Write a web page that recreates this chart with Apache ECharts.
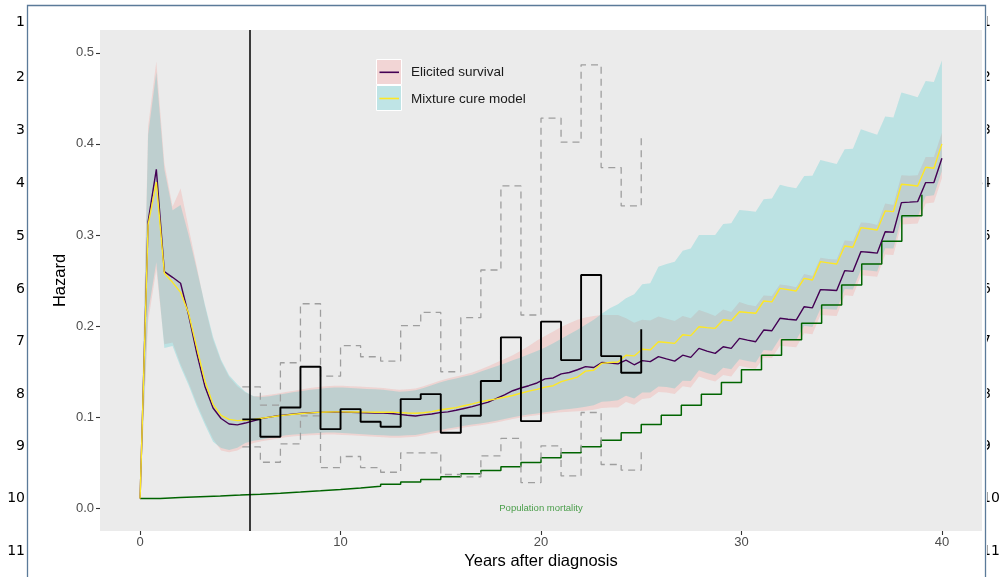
<!DOCTYPE html>
<html><head><meta charset="utf-8">
<script src="https://cdn.jsdelivr.net/npm/echarts@6/dist/echarts.min.js"></script>
<style>html,body{margin:0;padding:0;background:#fff}#c{width:1005px;height:577px}</style>
</head><body><div id="c"></div>
<script>
// evaluation grid (years)
const T = [0.00,0.40,0.81,1.21,1.62,2.02,2.42,2.83,3.23,3.64,
4.04,4.44,4.85,5.25,5.66,6.06,6.46,6.87,7.27,7.68,
8.08,8.48,8.89,9.29,9.70,10.10,10.51,10.91,11.31,11.72,
12.12,12.53,12.93,13.33,13.74,14.14,14.55,14.95,15.35,15.76,
16.16,16.57,16.97,17.37,17.78,18.18,18.59,18.99,19.39,19.80,
20.20,20.61,21.01,21.41,21.82,22.22,22.63,23.03,23.43,23.84,
24.24,24.65,25.05,25.45,25.86,26.26,26.67,27.07,27.47,27.88,
28.28,28.69,29.09,29.49,29.90,30.30,30.71,31.11,31.52,31.92,
32.32,32.73,33.13,33.54,33.94,34.34,34.75,35.15,35.56,35.96,
36.36,36.77,37.17,37.58,37.98,38.38,38.79,39.19,39.60,40.00];

// Elicited survival hazard (purple) and its interval (pink)
const elicited = [0.0107,0.3146,0.372,0.2597,0.2535,0.247,0.212,0.170,0.134,0.110,
0.0985,0.0925,0.0915,0.0935,0.0960,0.0985,0.1000,0.1015,0.1025,0.1035,
0.1042,0.1048,0.1052,0.1055,0.1056,0.1055,0.1053,0.1050,0.1048,0.1046,
0.1045,0.1040,0.1030,0.1020,0.1012,0.1025,0.1035,0.1050,0.1058,0.1075,
0.1095,0.1115,0.1140,0.1165,0.1205,0.1245,0.1290,0.1320,0.1345,0.1375,
0.1420,0.1430,0.1475,0.1490,0.1520,0.1555,0.1545,0.1600,0.1595,0.1585,
0.1626,0.1575,0.1620,0.1610,0.1665,0.1640,0.1615,0.1680,0.1656,0.1755,
0.1725,0.1700,0.1773,0.1755,0.1865,0.1845,0.1828,0.1956,0.1949,0.2085,
0.2075,0.2066,0.2212,0.2200,0.2400,0.2395,0.2390,0.2608,0.2600,0.2817,
0.2810,0.2800,0.3035,0.3030,0.3355,0.3360,0.3366,0.3575,0.3575,0.3843];
const elicitedHi = [0.0107,0.419,0.4905,0.379,0.331,0.351,0.308,0.265,0.222,0.185,
0.161,0.144,0.134,0.127,0.123,0.1235,0.1245,0.126,0.1275,0.129,
0.1305,0.132,0.133,0.134,0.1345,0.1345,0.134,0.1335,0.133,0.1325,
0.132,0.131,0.130,0.1305,0.1315,0.134,0.137,0.140,0.1425,0.1445,
0.1465,0.1490,0.1524,0.156,0.160,0.1637,0.168,0.173,0.178,0.184,
0.189,0.194,0.199,0.203,0.207,0.2095,0.211,0.212,0.212,0.212,
0.2086,0.2035,0.207,0.206,0.2105,0.208,0.2055,0.211,0.2086,0.2175,
0.2145,0.211,0.2183,0.2155,0.2265,0.2235,0.2218,0.2336,0.2329,0.2455,
0.2445,0.2426,0.2572,0.255,0.275,0.2735,0.273,0.2938,0.293,0.3137,
0.313,0.311,0.3345,0.333,0.3655,0.365,0.3656,0.3855,0.3855,0.4123];
const elicitedLo = [0.0107,0.205,0.262,0.180,0.182,0.158,0.138,0.115,0.095,0.076,
0.0635,0.0615,0.0635,0.068,0.0715,0.0735,0.075,0.0765,0.078,0.079,
0.0795,0.080,0.0805,0.081,0.081,0.0805,0.080,0.0795,0.079,0.0785,
0.078,0.0775,0.0775,0.078,0.0785,0.080,0.082,0.0835,0.0855,0.087,
0.0885,0.090,0.091,0.0925,0.094,0.096,0.098,0.0995,0.101,0.102,
0.1035,0.1045,0.1055,0.106,0.1065,0.107,0.108,0.110,0.1105,0.1105,
0.1166,0.1135,0.120,0.121,0.1275,0.127,0.1255,0.134,0.1326,0.1445,
0.1415,0.139,0.1463,0.1445,0.1565,0.1545,0.153,0.1656,0.1649,0.1785,
0.1775,0.1766,0.1922,0.191,0.212,0.2115,0.211,0.2338,0.233,0.2557,
0.255,0.254,0.2785,0.278,0.3115,0.312,0.3126,0.3345,0.3355,0.3623];

// Mixture cure model hazard (yellow) and its interval (cyan)
const mixture = [0.0107,0.311,0.358,0.258,0.248,0.237,0.214,0.176,0.140,0.114,
0.102,0.0975,0.0962,0.0965,0.0975,0.0988,0.1000,0.1012,0.1022,0.1032,
0.1040,0.1047,0.1052,0.1056,0.1058,0.1058,0.1057,0.1056,0.1055,0.1054,
0.1054,0.1055,0.1050,0.1045,0.1042,0.1048,0.1060,0.1078,0.1092,0.1105,
0.1125,0.1145,0.1168,0.1185,0.1200,0.1218,0.1238,0.1262,0.1285,0.1305,
0.1330,0.1345,0.1390,0.1415,0.1440,0.1505,0.1515,0.1590,0.1600,0.1605,
0.1680,0.1672,0.1745,0.1738,0.1828,0.1820,0.1810,0.1905,0.1895,0.1993,
0.1983,0.1975,0.2070,0.2058,0.2157,0.2148,0.2140,0.2275,0.2265,0.2414,
0.2400,0.2385,0.2524,0.2505,0.2707,0.2694,0.2681,0.2879,0.2865,0.3080,
0.3068,0.3055,0.3264,0.3256,0.3557,0.3548,0.3538,0.3744,0.3733,0.4000];
const mixtureHi = [0.0107,0.410,0.479,0.372,0.327,0.333,0.300,0.262,0.224,0.188,
0.163,0.146,0.136,0.128,0.123,0.122,0.123,0.1245,0.126,0.1275,
0.1288,0.130,0.131,0.132,0.1325,0.1325,0.132,0.1315,0.131,0.1305,
0.130,0.129,0.128,0.1285,0.1295,0.132,0.135,0.138,0.1405,0.1425,
0.1445,0.1465,0.1498,0.1528,0.156,0.159,0.1625,0.1655,0.169,0.1725,
0.1765,0.181,0.186,0.191,0.196,0.2015,0.207,0.2135,0.2194,0.224,
0.2304,0.235,0.246,0.247,0.2652,0.268,0.2707,0.2827,0.285,0.300,
0.300,0.300,0.3121,0.3128,0.3275,0.3265,0.3256,0.3392,0.340,0.355,
0.353,0.3513,0.3648,0.365,0.3824,0.380,0.378,0.3942,0.3945,0.4161,
0.413,0.410,0.430,0.429,0.4564,0.454,0.4513,0.469,0.468,0.4915];
const mixtureLo = [0.0107,0.215,0.270,0.176,0.178,0.155,0.135,0.112,0.092,0.073,
0.066,0.064,0.0665,0.0715,0.074,0.0755,0.077,0.0785,0.080,0.081,
0.0815,0.082,0.0825,0.083,0.083,0.0825,0.082,0.0815,0.081,0.0805,
0.080,0.0795,0.0795,0.080,0.0805,0.082,0.084,0.0855,0.0875,0.089,
0.0905,0.092,0.093,0.0945,0.096,0.098,0.100,0.1015,0.103,0.104,
0.1055,0.1065,0.108,0.109,0.110,0.1115,0.113,0.117,0.1175,0.1185,
0.1236,0.1205,0.127,0.127,0.1335,0.133,0.1315,0.140,0.1396,0.1515,
0.1485,0.146,0.1543,0.1525,0.1635,0.1615,0.160,0.1736,0.1729,0.1865,
0.1855,0.1846,0.2002,0.199,0.219,0.2185,0.218,0.2408,0.240,0.2617,
0.261,0.260,0.2855,0.285,0.3185,0.319,0.3196,0.3425,0.3435,0.3703];

// Population mortality (yearly steps)
const popYears = [0,1,2,3,4,5,6,7,8,9,10,11,12,13,14,15,16,17,18,19,20,21,22,23,24,25,26,27,28,29,30,31,32,33,34,35,36,37,38,39];
const popRate = [0.0107,0.0117,0.0127,0.0135,0.0144,0.0154,0.0165,0.0177,0.0191,0.0206,
0.0223,0.0242,0.0264,0.0288,0.0315,0.0345,0.0378,0.0415,0.0456,0.0502,
0.0553,0.061,0.0675,0.0747,0.0829,0.092,0.102,0.113,0.125,0.138,
0.152,0.168,0.185,0.203,0.223,0.245,0.268,0.293,0.321,0.344];

// Observed hazard with interval (step)
const obsYears = [5.1,6,7,8,9,10,11,12,13,14,15,16,17,18,19,20,21,22,23,24,25];
const obsHazard = [0.0975,0.0784,0.1106,0.1553,0.0868,0.1088,0.0949,0.0894,0.1198,0.1253,0.0828,0.1015,0.1396,0.1876,0.0956,0.2048,0.1626,0.256,0.167,0.1487,0.1964];
const obsUpper = [0.1333,0.1132,0.1597,0.2245,0.145,0.1784,0.1663,0.1615,0.2004,0.215,0.1498,0.2092,0.2615,0.3538,0.2121,0.4282,0.4018,0.4868,0.374,0.3319,0.41];
const obsLower = [0.0674,0.0505,0.0707,0.1013,0.0445,0.0568,0.0445,0.0395,0.0608,0.0608,0.037,0.0344,0.0575,0.0766,0.0282,0.0685,0.0355,0.1051,0.048,0.0418,0.0619];

const VLINE_X = 5.45;
const xTicks = [0,10,20,30,40];
const yTicks = [0,0.1,0.2,0.3,0.4,0.5];
const rowLabels = ['1','2','3','4','5','6','7','8','9','10','11'];
const rowY = [22,77,130,183,236,289,341,394,446,498,551];

function pairs(xs, ys){ return xs.map((x,i)=>[x, ys[i]]); }
function ribbon(lo, hi, color){
  return {
    type:'custom', silent:true, clip:true,
    data: T.map((t,i)=>[t, lo[i], hi[i]]),
    encode:{x:0, y:[1,2]},
    renderItem:function(params, api){
      if(params.dataIndex!==0) return null;
      const pts=[];
      for(let i=0;i<T.length;i++) pts.push(api.coord([T[i], hi[i]]));
      for(let i=T.length-1;i>=0;i--) pts.push(api.coord([T[i], lo[i]]));
      return {type:'polygon', shape:{points:pts}, style:{fill:color}};
    }
  };
}

const FONT = 'Liberation Sans, Arial, sans-serif';
const graphics = [];
rowLabels.forEach((s,i)=>{
  graphics.push({type:'text', x:25, y:rowY[i], z:90, style:{text:s, fill:'#000', font:'14px "DejaVu Sans"', align:'right', verticalAlign:'middle'}});
  graphics.push({type:'text', x:982, y:rowY[i], z:90, style:{text:s, fill:'#000', font:'14px "DejaVu Sans"', align:'left', verticalAlign:'middle'}});
});
graphics.push({type:'rect', z:95, shape:{x:982.5,y:0,width:4.5,height:577}, style:{fill:'#fff'}});
graphics.push({type:'polyline', z:100, shape:{points:[[27.5,577],[27.5,5.5],[985.5,5.5],[985.5,577]]}, style:{stroke:'#5B7A99', lineWidth:1.3, fill:null}});
// legend
graphics.push({type:'rect', z:100, shape:{x:376.5,y:59.5,width:25,height:25}, style:{fill:'#F2D5D5', stroke:'#fff', lineWidth:1}});
graphics.push({type:'rect', z:100, shape:{x:376.5,y:85.5,width:25,height:25}, style:{fill:'#BFE4E6', stroke:'#fff', lineWidth:1}});
graphics.push({type:'line', z:101, shape:{x1:379.5,y1:72.3,x2:399,y2:72.3}, style:{stroke:'#440154', lineWidth:1.6}});
graphics.push({type:'line', z:101, shape:{x1:379.5,y1:98.5,x2:399,y2:98.5}, style:{stroke:'#FDE725', lineWidth:1.6}});
graphics.push({type:'text', z:101, x:411, y:72.5, style:{text:'Elicited survival', fill:'#1a1a1a', font:'13.5px '+FONT, align:'left', verticalAlign:'middle'}});
graphics.push({type:'text', z:101, x:411, y:98.8, style:{text:'Mixture cure model', fill:'#1a1a1a', font:'13.5px '+FONT, align:'left', verticalAlign:'middle'}});

const chart = echarts.init(document.getElementById('c'), null, {renderer:'canvas'});
chart.setOption({
  animation:false,
  backgroundColor:'#fff',
  grid:{left:100, right:23, top:30, bottom:46, show:true, backgroundColor:'#EBEBEB', borderWidth:0},
  xAxis:{type:'value', min:-2, max:42,
    axisLine:{show:false, onZero:false}, splitLine:{show:false},
    axisTick:{show:true, customValues:xTicks, length:4, lineStyle:{color:'#333', width:1.1}},
    axisLabel:{customValues:xTicks, color:'#4D4D4D', fontSize:13, margin:5, fontFamily:FONT},
    name:'Years after diagnosis', nameLocation:'middle', nameGap:22, nameMoveOverlap:false,
    nameTextStyle:{fontSize:16.5, color:'#000', fontFamily:FONT}},
  yAxis:{type:'value', min:-0.025, max:0.525,
    axisLine:{show:false, onZero:false}, splitLine:{show:false},
    axisTick:{show:true, customValues:yTicks, length:4, lineStyle:{color:'#333', width:1.1}},
    axisLabel:{customValues:yTicks, color:'#4D4D4D', fontSize:13, margin:6, fontFamily:FONT, formatter:v=>v.toFixed(1)},
    name:'Hazard', nameLocation:'middle', nameRotate:90, nameGap:31, nameMoveOverlap:false,
    nameTextStyle:{fontSize:16.5, color:'#000', fontFamily:FONT}},
  graphic:{elements:graphics},
  series:[
    ribbon(elicitedLo, elicitedHi, 'rgba(248,118,109,0.2)'),
    ribbon(mixtureLo, mixtureHi, 'rgba(0,191,196,0.2)'),
    {type:'line', data:pairs(popYears, popRate), step:'end', showSymbol:false, silent:true,
      lineStyle:{color:'#006400', width:1.5}},
    {type:'line', data:pairs(obsYears, obsUpper), step:'end', showSymbol:false, silent:true,
      lineStyle:{color:'#9E9E9E', width:1.3, type:[7,5]}},
    {type:'line', data:pairs(obsYears, obsLower), step:'end', showSymbol:false, silent:true,
      lineStyle:{color:'#9E9E9E', width:1.3, type:[7,5]}},
    {type:'line', data:pairs(T, elicited), showSymbol:false, silent:true,
      lineStyle:{color:'#440154', width:1.4}},
    {type:'line', data:pairs(T, mixture), showSymbol:false, silent:true,
      lineStyle:{color:'#FDE725', width:1.4}},
    {type:'line', data:pairs(obsYears, obsHazard), step:'end', showSymbol:false, silent:true,
      lineStyle:{color:'#000', width:1.9},
      markLine:{silent:true, symbol:['none','none'], label:{show:false},
        lineStyle:{color:'#000', width:1.5, type:'solid'}, data:[{xAxis:VLINE_X}]}},
    {type:'scatter', data:[[20,0]], symbolSize:1, silent:true, itemStyle:{color:'rgba(0,0,0,0)'},
      label:{show:true, position:'inside', formatter:'Population mortality', color:'#228B22', fontSize:9.5, fontFamily:FONT}}
  ]
});
</script>
</body></html>
